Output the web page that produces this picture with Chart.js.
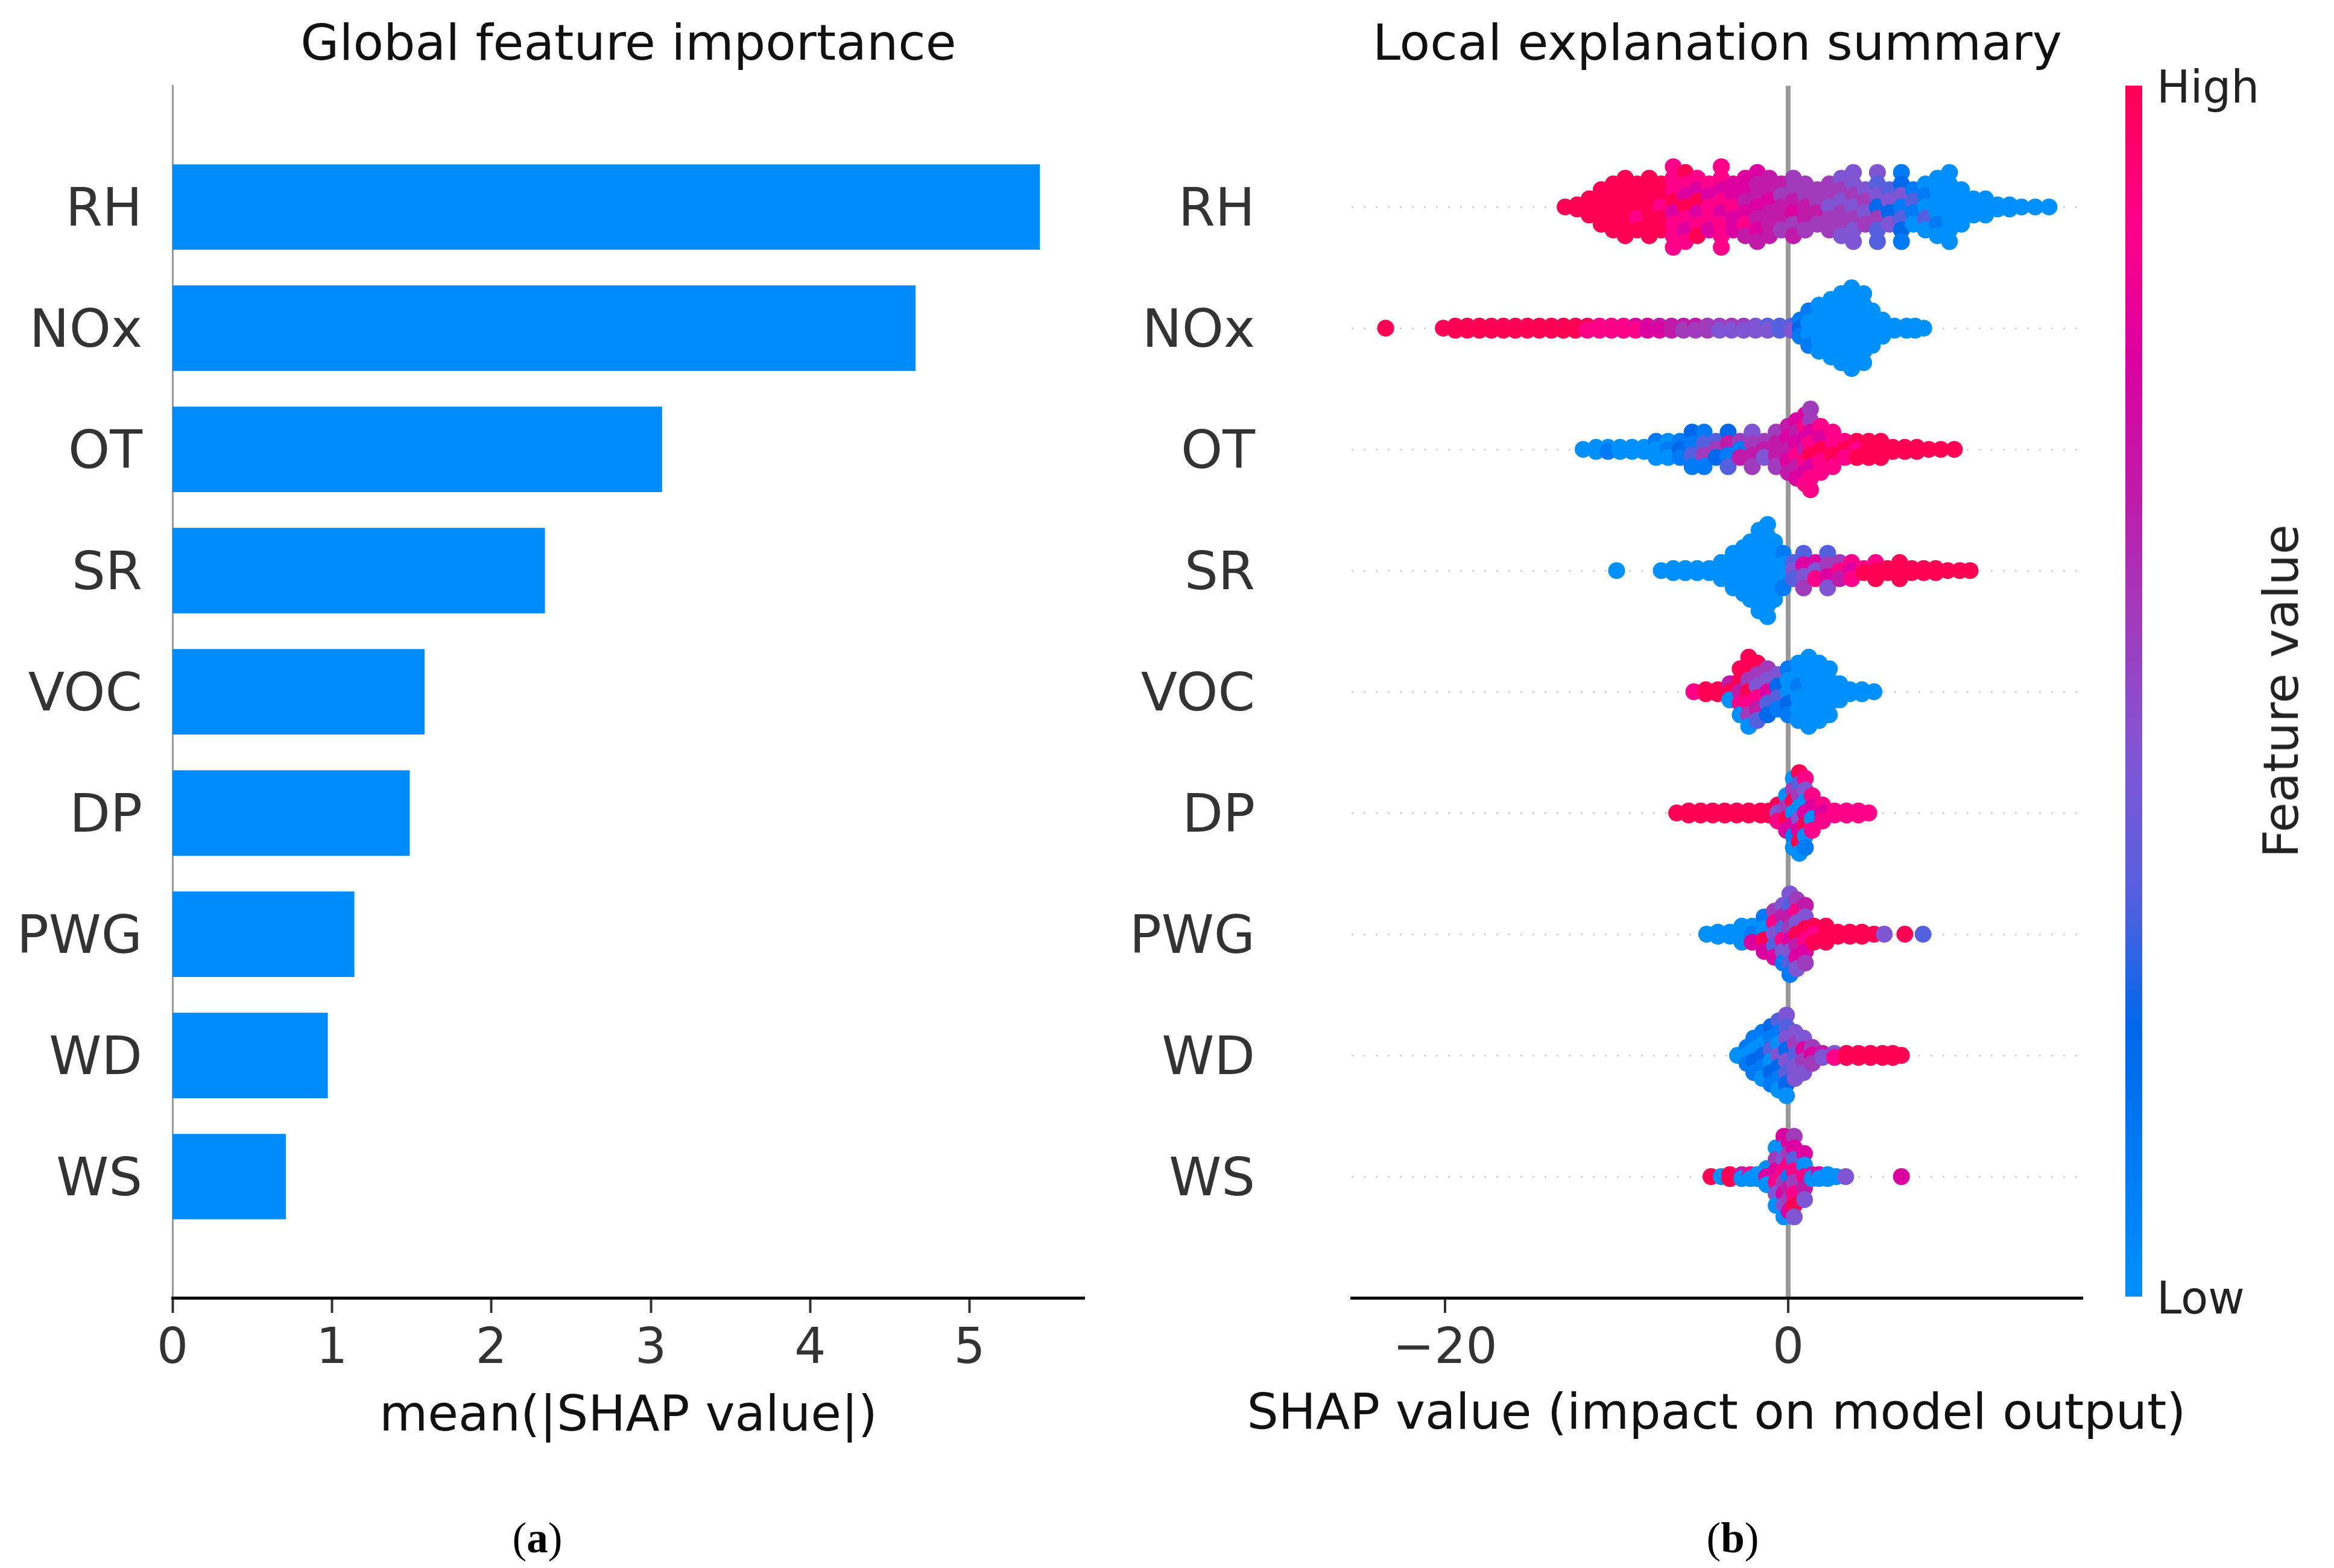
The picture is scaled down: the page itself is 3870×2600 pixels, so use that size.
<!DOCTYPE html>
<html>
<head>
<meta charset="utf-8">
<script src="https://cdn.jsdelivr.net/npm/chart.js@4"></script>
<style>
html,body{margin:0;padding:0;background:#fff;width:3870px;height:2600px;overflow:hidden}
canvas{position:absolute;top:0}
.t{position:absolute;white-space:nowrap}
.cap{font-family:"Liberation Serif",serif;font-size:71px;color:#000;transform:translate(-50%,-50%)}
#fv{font-family:"DejaVu Sans",sans-serif;font-size:81px;color:#222;left:3782px;top:1146px;transform:translate(-50%,-50%) rotate(-90deg)}
#sx{font-family:"DejaVu Sans",sans-serif;font-size:82.5px;color:#111;left:2846px;top:2340px;transform:translate(-50%,-50%)}
</style>
</head>
<body>
<canvas id="bar"></canvas>
<canvas id="swarm"></canvas>
<canvas id="cbar"></canvas>
<div class="t" id="fv">Feature value</div>
<div class="t" id="sx">SHAP value (impact on model output)</div>
<div class="t cap" style="left:891px;top:2550px">(<b>a</b>)</div>
<div class="t cap" style="left:2873px;top:2550px">(<b>b</b>)</div>
<script>
const features = ['RH','NOx','OT','SR','VOC','DP','PWG','WD','WS'];
const meanAbs = [5.44,4.66,3.07,2.335,1.58,1.487,1.14,0.973,0.71];
const barTicks = [0,1,2,3,4,5];
const palette = ['#0090fb','#007bf5','#0068ea','#5560de','#7f55d4','#a03cbc','#c01aa8','#dc00a0','#ff0088','#ff0054'];

// each beeswarm: SHAP x of a column, and the feature value (0 low .. 9 high) of each dot stacked in that column
const rhX = [-13,-12.3,-11.6,-10.9,-10.2,-9.5,-8.8,-8.1,-7.4,-6.7,-6,-5.3,-4.6,-3.9,-3.2,-2.5,-1.8,-1.1,-.4,.3,1,1.7,2.4,3.1,3.8,4.5,5.2,5.9,6.6,7.3,8,8.7,9.4,10.1,10.8,11.5,12.2,12.9,13.6,14.4,15.2];
const rhV = [[9],[9,9],[9,9,9],[9,9,9,9],[9,9,9,9,9],[9,9,9,9,9,9],[9,9,9,8,9],[9,9,9,9,9,9],[9,9,8,9,9],[8,8,8,9,7,8,8,8],[9,8,7,9,8,7,8],[8,7,9,7,8,9],[8,7,8,8,7],[8,8,7,8,7,8,8,8],[7,7,8,7,7],[7,7,6,7,8,6],[7,6,6,7,6,7,6],[6,6,7,6,6,6],[6,5,6,6,5],[5,5,6,7,5,6],[5,5,6,6,5],[5,5,6,5],[5,5,4,5,5],[4,5,4,5,5,4],[4,4,5,4,5,4,4],[4,5,4,5],[4,3,4,2,5,3,3],[3,4,2,4],[1,2,4,1,3,2,1],[1,3,1,0],[0,1,0,3,0],[0,0,0,0,1,0],[0,0,0,0,0,0,0],[0,0,0,0],[0,0,0],[0,0,0],[0,0],[0,0],[0],[0],[0]];

const noxX = [-23.46,-20.1,-19.4,-18.7,-18,-17.3,-16.6,-15.9,-15.2,-14.5,-13.8,-13.1,-12.4,-11.7,-11,-10.3,-9.6,-8.9,-8.2,-7.5,-6.8,-6.1,-5.4,-4.7,-4,-3.3,-2.6,-1.9,-1.2,-.5,.2,.7,1.2,1.8,2.5,3.1,3.7,4.4,4.9,5.5,6.2,6.9,7.4,7.9];
const noxV = [[9],[9],[9,9],[9,9],[9,9],[9,9],[9,9],[9,9],[9,9],[9,9],[9,9],[9,9],[9,9],[9,8],[8,8],[8,8],[8,8],[7,8],[7,7],[6,7],[6,6],[6,5],[6,5],[5,5],[5,4],[5,4],[5,4],[4,4],[3,4],[3,3],[3,4],[1,2,1],[1,0,0,1],[0,0,0,0,0],[0,0,0,0,0,0],[0,0,0,0,0,0,0],[0,0,0,0,0,0,0,0],[0,0,0,0,0,0,0],[0,0,0,0],[0,0,0],[0,0],[0,0],[0,0],[0]];

const otX = [-11.95,-11.2,-10.5,-9.8,-9.1,-8.4,-7.7,-7,-6.3,-5.6,-4.9,-4.2,-3.5,-2.8,-2.1,-1.4,-.7,0,.5,1,1.3,1.9,2.6,3.3,4,4.7,5.4,6.1,6.8,7.5,8.2,8.9,9.68];
const otV = [[0],[0,0],[0,1],[0,0],[0,0],[0,0],[1,0,0],[0,1,0],[1,2,1],[2,1,3,1],[1,3,5,1],[3,5,2],[2,6,1,3],[5,1,6],[4,5,6,5],[5,6,4],[5,6,6,5],[6,7,6,7,6],[7,6,7,8,6,7],[7,8,7,6,8,7,8],[5,5,7,8,9,7,8,8],[8,7,9,8,8],[8,8,9,8],[8,9,8],[9,8,9],[9,9,9],[9,9,9],[9,9],[9,9],[9,9],[9],[9],[9]];

const srX = [-10,-7.4,-6.7,-6,-5.3,-4.6,-3.9,-3.2,-2.6,-2.2,-1.7,-1.2,-.8,-.3,.3,.9,1.6,2.3,3,3.7,4.4,5.1,5.8,6.5,7.2,7.9,8.6,9.3,10,10.6];
const srV = [[0],[0],[0,0],[0,0],[0,0],[0,0],[0,0,0],[0,0,0,0],[0,0,0,0,0],[0,0,0,0,0,0],[0,0,0,0,0,0,0,0],[0,0,0,0,0,0,0,0,0],[0,0,0,0,0,0],[1,0,0,1],[3,4,3],[3,7,4,5],[7,4,8],[3,5,7,4],[5,8,6],[8,7,8],[8,9],[8,9,9],[9,9],[9,9,9],[9,9],[9,9],[9,9],[9],[9],[9]];

const vocX = [-5.5,-4.8,-4.1,-3.4,-2.8,-2.3,-1.8,-1.2,-.6,0,.6,1.2,1.8,2.4,3,3.6,4.3,5];
const vocV = [[8],[9,9],[9,9],[6,9,0],[9,9,6,8,0],[9,9,5,9,8,5,0],[9,5,4,8,6,3],[5,4,7,3,2],[4,2,3,1],[1,0,0,2,1],[0,0,1,0,0,0],[0,0,0,0,0,0,0],[0,0,0,0,0,0],[0,0,0,0,0],[0,0,0],[0,0],[0,0],[0]];

const dpX = [-6.5,-5.8,-5.1,-4.4,-3.7,-3,-2.3,-1.6,-1.1,-.6,-.1,.3,.65,1,1.4,2,2.7,3.4,4.1,4.7];
const dpV = [[9],[9,9],[9,9],[9,9],[9,9],[9,9],[9,9],[9,9],[9,9],[9,4,8],[0,5,9,7],[0,5,9,0,7,1,0],[9,3,5,0,4,7,9,0],[8,4,0,7,9,0,1],[8,7,0,8],[8,7,8],[8,8],[8,8],[8,8],[8]];

const pwgX = [-4.75,-4.1,-3.4,-2.7,-2.1,-1.4,-.8,-.3,.1,.5,1,1.5,2.2,2.9,3.6,4.3,5,5.6,6.8,7.86];
const pwgV = [[0],[0,0],[0,0],[0,0,0],[0,1,7],[1,0,9,7],[5,8,4,3,7],[4,6,3,8,4,1],[4,3,6,5,7,4,3,1],[5,8,4,9,6,7,4],[6,4,9,8,7,5],[9,8,9],[9,9,9],[9,9],[9,9],[9,9],[9],[4],[9],[3]];

const wdX = [-2.95,-2.4,-2,-1.5,-1,-.55,-.1,.4,.9,1.4,2,2.7,3.4,4.1,4.8,5.5,6.1,6.6];
const wdV = [[0],[1,0,1],[1,0,2,1],[1,0,2,1,0],[2,1,3,0,2,1],[3,1,0,4,2,1,0],[4,3,4,2,4,3,2,0],[4,5,3,4,4],[4,7,5,4],[5,7,5],[6,4],[4,8],[9,9],[9,9],[9,9],[9,9],[9,9],[9]];

const wsX = [-4.5,-3.9,-3.4,-2.7,-2.2,-1.8,-1.25,-.7,-.25,.05,.35,.95,1.4,1.8,2.3,2.8,3.35,6.6];
const wsV = [[9],[0],[9,9],[6,0],[8,0],[0,0],[0,7,0],[0,5,7,8,4,0],[7,0,4,8,5,7,4,0],[7,5,8,1,6,5,7],[5,7,3,8,5,8,9,4],[7,0,8,6,4],[6,0],[7,0],[0,0],[0],[4],[7]];

const rows = [[rhX,rhV],[noxX,noxV],[otX,otV],[srX,srV],[vocX,vocV],[dpX,dpV],[pwgX,pwgV],[wdX,wdV],[wsX,wsV]];
const layerStep = 0.095;
const tightStacks = {2:0.35,3:0.7};

Chart.defaults.font.family = '"DejaVu Sans",sans-serif';
Chart.defaults.devicePixelRatio = 1;

function size(id,left,w){const c=document.getElementById(id);c.width=w;c.height=2600;c.style.left=left+'px';c.style.width=w+'px';c.style.height='2600px';return c;}
const titleOf = text => ({display:true,text,color:'#111',font:{size:82.7,weight:'normal'},fullSize:false,padding:{top:28,bottom:15}});
const noLegend = {legend:{display:false},tooltip:{enabled:false}};
const fixWidth = w => s => {s.width=w;s.paddingTop=0;s.paddingBottom=0;};
const fixHeight = h => s => {s.height=h;s.paddingLeft=0;s.paddingRight=0;};

new Chart(size('bar',0,1800),{
  type:'bar',
  data:{labels:['',...features,''],datasets:[{data:[null,...meanAbs,null],backgroundColor:'#008bfb',barThickness:141}]},
  options:{
    indexAxis:'y',responsive:false,animation:false,events:[],
    layout:{autoPadding:false,padding:{left:0,right:2,top:0,bottom:190}},
    plugins:{...noLegend,title:titleOf('Global feature importance')},
    scales:{
      y:{type:'category',offset:false,afterFit:fixWidth(286),
         grid:{offset:false,drawOnChartArea:false,drawTicks:false},
         border:{display:true,color:'#999',width:3},
         ticks:{autoSkip:false,padding:50,labelOffset:8,color:'#333',font:{size:88}}},
      x:{type:'linear',min:0,max:5.72,afterFit:fixHeight(258),
         grid:{drawOnChartArea:false,tickLength:25,tickColor:'#333',tickWidth:4},
         border:{display:true,color:'#000',width:5},
         ticks:{includeBounds:false,stepSize:1,padding:13,color:'#333',font:{size:82},maxRotation:0,callback:v=>barTicks.includes(v)?String(v):''},
         title:{display:true,text:'mean(|SHAP value|)',color:'#111',font:{size:82.5},padding:{top:0,bottom:10}}}
    }
  }
});

new Chart(size('swarm',1800,1900),{
  type:'scatter',
  data:{datasets:rows.map(([xs,vs],r)=>{
    const data=[],cols=[];
    xs.forEach((x,i)=>{const n=vs[i].length,step=layerStep*(tightStacks[n]??1);vs[i].forEach((v,j)=>{data.push({x,y:r+(j-(n-1)/2)*step});cols.push(palette[v]);});});
    return {data,pointBackgroundColor:cols,pointBorderWidth:0,pointRadius:14,showLine:false};
  })},
  options:{
    responsive:false,animation:false,events:[],
    layout:{autoPadding:false,padding:{left:0,right:246,top:0,bottom:190}},
    plugins:{...noLegend,title:titleOf('Local explanation summary')},
    scales:{
      y:{type:'linear',min:-1,max:9,reverse:true,afterFit:fixWidth(441),
         grid:{drawTicks:false,lineWidth:3,color:c=>(c.tick&&c.tick.value>=0&&c.tick.value<=8)?'#d4d4d4':'rgba(0,0,0,0)'},
         border:{display:false,dash:[3,17]},
         ticks:{stepSize:1,autoSkip:false,padding:160,labelOffset:8,color:'#333',font:{size:88},callback:v=>features[v]??''}},
      x:{type:'linear',min:-25.45,max:17.19,afterFit:fixHeight(258),
         grid:{tickLength:25,tickColor:'#333',tickWidth:4,
               lineWidth:c=>(c.tick&&c.tick.value===0)?8:0,color:'#999'},
         border:{display:true,color:'#000',width:5},
         ticks:{includeBounds:false,stepSize:20,padding:13,color:'#333',font:{size:82},maxRotation:0,callback:v=>v<0?'\u2212'+Math.abs(v):String(v)}}
    }
  }
});

new Chart(size('cbar',3400,470),{
  type:'bar',
  data:{labels:[''],datasets:[{data:[1],barPercentage:1,categoryPercentage:1,
    backgroundColor:c=>{const a=c.chart.chartArea;if(!a)return palette[0];
      const g=c.chart.ctx.createLinearGradient(0,a.bottom,0,a.top);
      palette.forEach((p,i)=>g.addColorStop(i/(palette.length-1),p));return g;}}]},
  options:{
    responsive:false,animation:false,events:[],
    layout:{autoPadding:false,padding:{left:124,right:0,top:142,bottom:450}},
    plugins:{...noLegend},
    scales:{
      x:{display:false},
      y:{position:'right',min:0,max:1,afterFit:fixWidth(318),
         grid:{display:false,drawTicks:false},border:{display:false},
         ticks:{stepSize:1,padding:24,labelOffset:9,color:'#222',font:{size:74},callback:v=>v===1?'High':(v===0?'Low':'')}}
    }
  }
});
</script>
</body>
</html>
